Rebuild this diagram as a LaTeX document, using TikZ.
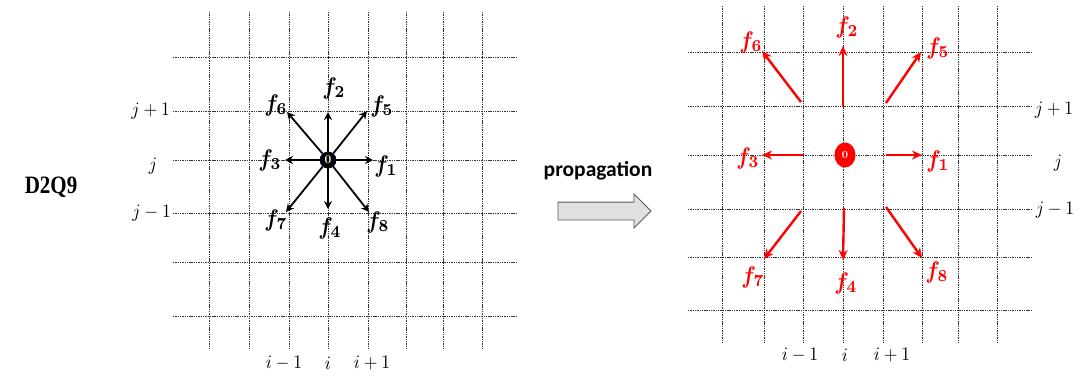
\documentclass[tikz,border=0pt]{standalone}
\usepackage{fontspec}
\usepackage{amsmath}
\newfontfamily\calib{Carlito}
\newfontfamily\timesf{Liberation Serif}
\usetikzlibrary{arrows.meta,shapes.geometric,shapes.arrows}
\newcommand{\flabel}[1]{\scalebox{2.15}[2.4]{\boldmath$f_{#1}$}}
\newcommand{\ilabel}[1]{\scalebox{1.75}[1.9]{$#1$}}
\tikzset{
  gridline/.style={line width=1pt, draw=black!80, dash pattern=on 1.4pt off 0.9pt},
  blkarrow/.style={line width=1.8pt, -{Stealth[length=8pt,width=8pt]}},
  redarrow/.style={line width=2.4pt, red, -{Stealth[length=10pt,width=9pt]}},
  flab/.style={inner sep=0pt},
  idx/.style={inner sep=0pt},
}
\begin{document}
\begin{tikzpicture}[x=1pt,y=-1pt]
\useasboundingbox (0,0) rectangle (1076,376);
% ---------- left grid ----------
\foreach \x in {209,249,289,328,368,406,443,482} \draw[gridline] (\x,12) -- (\x,348);
\foreach \y in {57,111,160,213,262,316} \draw[gridline] (173,\y) -- (516,\y);
% ---------- right grid ----------
\foreach \x in {722,764,803,843,883,922,958,997} \draw[gridline] (\x,6) -- (\x,343);
\foreach \y in {52,106,155,209,257,310} \draw[gridline] (688,\y) -- (1032,\y);

% ---------- title and propagation ----------
\node[font=\timesf\bfseries\fontsize{25}{27}\selectfont, inner sep=0pt] (title) at (51,187) {\scalebox{0.84}[1]{D2Q9}};
\node[font=\calib\bfseries\fontsize{21.5}{24}\selectfont, inner sep=0pt] (prop) at (598,171) {propagation};
\node[single arrow, draw=black!65, fill=black!12, line width=0.9pt, minimum height=93pt, inner xsep=0pt, inner ysep=8.5pt, single arrow head extend=8pt] (parr) at (600,211) {};

% ---------- left stencil ----------
\node[circle, fill=black, draw=black!80!blue, line width=0.8pt, minimum size=16pt, inner sep=0pt, text=white, font=\bfseries\fontsize{12}{13}\selectfont] (c) at (328,160) {0};
\coordinate (e1) at (373,160);
\coordinate (e2) at (328,112);
\coordinate (e3) at (285,160);
\coordinate (e4) at (328,209);
\coordinate (e5) at (367,111);
\coordinate (e6) at (287,112);
\coordinate (e7) at (286,212);
\coordinate (e8) at (369,212);
\foreach \k in {1,...,8} \draw[blkarrow] (c) -- (e\k);
\node[flab] (lf1) at (386,166) {\flabel{1}};
\node[flab] (lf2) at (334,88) {\flabel{2}};
\node[flab] (lf3) at (270,160) {\flabel{3}};
\node[flab] (lf4) at (330,228) {\flabel{4}};
\node[flab] (lf5) at (382,106) {\flabel{5}};
\node[flab] (lf6) at (276,105) {\flabel{6}};
\node[flab] (lf7) at (276,220) {\flabel{7}};
\node[flab] (lf8) at (378,222) {\flabel{8}};
\node[idx, anchor=east] (lj1) at (170,111) {\ilabel{j+1}};
\node[idx] (lj) at (153,166) {\ilabel{j}};
\node[idx, anchor=east] (lj0) at (171,213) {\ilabel{j-1}};
\node[idx] (li0) at (284,363) {\ilabel{i-1}};
\node[idx] (li) at (328,363) {\ilabel{i}};
\node[idx] (li1) at (372,363) {\ilabel{i+1}};

% ---------- right stencil ----------
\node[ellipse, fill=red, minimum width=21pt, minimum height=25pt, inner sep=0pt, text=white, font=\bfseries\fontsize{11}{12}\selectfont] (rc) at (845,155) {0};
\coordinate (s1) at (886,155); \coordinate (t1) at (922,155);
\coordinate (s2) at (843,107); \coordinate (t2) at (843,46);
\coordinate (s3) at (803,155); \coordinate (t3) at (762,155);
\coordinate (s4) at (844,208); \coordinate (t4) at (843,260);
\coordinate (s5) at (886,103); \coordinate (t5) at (921,52);
\coordinate (s6) at (801,102); \coordinate (t6) at (762,51);
\coordinate (s7) at (801,211); \coordinate (t7) at (764,259);
\coordinate (s8) at (886,207); \coordinate (t8) at (922,258);
\foreach \k in {1,...,8} \draw[redarrow] (s\k) -- (t\k);
\node[flab, text=red] (rf1) at (938,161) {\flabel{1}};
\node[flab, text=red] (rf2) at (847,27) {\flabel{2}};
\node[flab, text=red] (rf3) at (748,158) {\flabel{3}};
\node[flab, text=red] (rf4) at (846,283) {\flabel{4}};
\node[flab, text=red] (rf5) at (938,48) {\flabel{5}};
\node[flab, text=red] (rf6) at (751,42) {\flabel{6}};
\node[flab, text=red] (rf7) at (753,277) {\flabel{7}};
\node[flab, text=red] (rf8) at (937,272) {\flabel{8}};
\node[idx] (rj1) at (1054,110) {\ilabel{j+1}};
\node[idx] (rj) at (1058,163) {\ilabel{j}};
\node[idx] (rj0) at (1055,210) {\ilabel{j-1}};
\node[idx] (ri0) at (800,355) {\ilabel{i-1}};
\node[idx] (ri) at (845,355) {\ilabel{i}};
\node[idx] (ri1) at (892,355) {\ilabel{i+1}};
\end{tikzpicture}
\end{document}
